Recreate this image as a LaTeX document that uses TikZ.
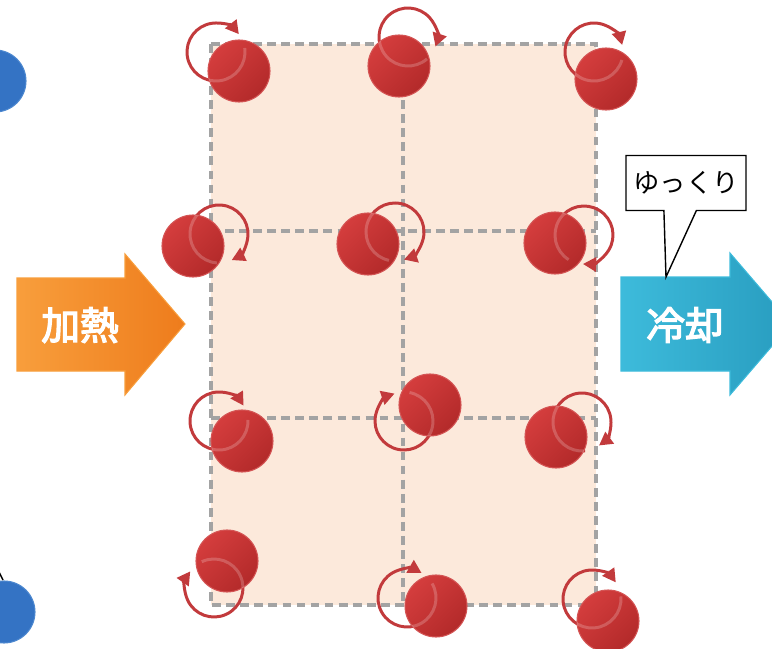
\documentclass[tikz,border=0pt]{standalone}
\usepackage{fontspec}
\newfontfamily\jpfont{Noto Sans CJK JP}
\newfontfamily\jpbold[FakeBold=3.5]{Noto Sans CJK JP}
\usetikzlibrary{arrows.meta, shapes.callouts}

\definecolor{ballhi}{HTML}{D43D3D}
\definecolor{balllo}{HTML}{B32A2A}
\definecolor{ballrim}{HTML}{D45555}
\definecolor{spinred}{HTML}{C23A3C}
\definecolor{gridfill}{HTML}{FCE9DB}
\definecolor{gridline}{HTML}{A3A3A3}
\definecolor{heathi}{HTML}{F89E3C}
\definecolor{heatlo}{HTML}{EE7C1C}
\definecolor{coolhi}{HTML}{3DBBDB}
\definecolor{coollo}{HTML}{289CBF}
\definecolor{atomblue}{HTML}{3473C4}
\definecolor{atomrim}{HTML}{4D88D0}

% #1,#2 ball centre, #3,#4 spin centre, #5/#6 start/end angle
\newcommand{\spinball}[6]{%
  \draw[spin] (#3,#4) ++(#5:29) arc[start angle=#5, end angle=#6, radius=29];
  \shadedraw[ball] (#1,#2) circle[radius=31];
  \begin{scope}
    \clip (#1,#2) circle[radius=31];
    \draw[spinghost] (#3,#4) ++(#5:29) arc[start angle=#5, end angle=#6, radius=29];
  \end{scope}
}

\begin{document}
\begin{tikzpicture}[
    x=0.02cm, y=-0.02cm,
    ball/.style={left color=ballhi, right color=balllo, shading angle=45,
    draw=ballrim, line width=0.6pt},
    spin/.style={draw=spinred, line width=1.7pt,
    -{Triangle[length=7.5pt, width=8pt]}},
    spinghost/.style={draw=white, draw opacity=0.2, line width=1.7pt},
    cell/.style={draw=gridline, line width=1.8pt, dash pattern=on 5pt off 3pt},
    atom/.style={fill=atomblue, draw=atomrim, line width=0.6pt},
    label/.style={text=white, font=\jpbold\fontsize{22}{22}\selectfont},
    callbox/.style={rectangle callout, draw, fill=white, line width=0.8pt,
    minimum width=2.4cm, minimum height=1.1cm, callout pointer width=0.65cm,
    font=\jpfont\fontsize{15}{15}\selectfont}
    ]
    \useasboundingbox (0,0) rectangle (772,649);
    \clip (0,0) rectangle (772,649);

    \draw[atom] (-5,81) circle[radius=31];
    \draw[atom] (4,612) circle[radius=31];
    \draw[line width=0.8pt] (-3,568) -- (3,580);

    \fill[gridfill] (211,44) rectangle (596,605);
    \draw[cell] (211,44) rectangle (596,605);
    \draw[cell] (403,44) -- (403,605);
    \draw[cell] (211,231) -- (596,231);
    \draw[cell] (211,418) -- (596,418);

    \spinball{239}{71}{216}{52}{-8}{322}
    \spinball{399}{66}{408}{37}{49}{379}
    \spinball{606}{79}{594}{52}{16}{346}
    \spinball{193}{246}{219}{234}{94}{424}
    \spinball{368}{244}{395}{232}{102}{432}
    \spinball{555}{243}{584}{235}{122}{452}
    \spinball{242}{441}{219}{421}{-2}{328}
    \spinball{430}{405}{404}{421}{-79}{251}
    \spinball{556}{437}{582}{422}{84}{414}
    \spinball{227}{561}{214}{588}{-115}{215}
    \spinball{436}{606}{407}{598}{-30}{300}
    \spinball{608}{621}{592}{599}{-5}{325}

    \shadedraw[left color=heathi, right color=heatlo, draw=heathi, line width=0.6pt]
    (17,278) -- (125,278) -- (125,254) -- (185,324) -- (125,395) -- (125,371)
    -- (17,371) -- cycle;
    \shadedraw[left color=coolhi, right color=coollo, draw=coolhi, line width=0.6pt]
    (621,277) -- (730,277) -- (730,253) -- (791,324) -- (730,395) -- (730,371)
    -- (621,371) -- cycle;

    \node[label] (heat) at (80,325) {加熱};
    \node[label] (cool) at (685,325) {冷却};

    \coordinate (tip) at (666,277);
    \node[callbox, callout absolute pointer={(tip)}] (slow) at (686,183) {ゆっくり};
\end{tikzpicture}
\end{document}
